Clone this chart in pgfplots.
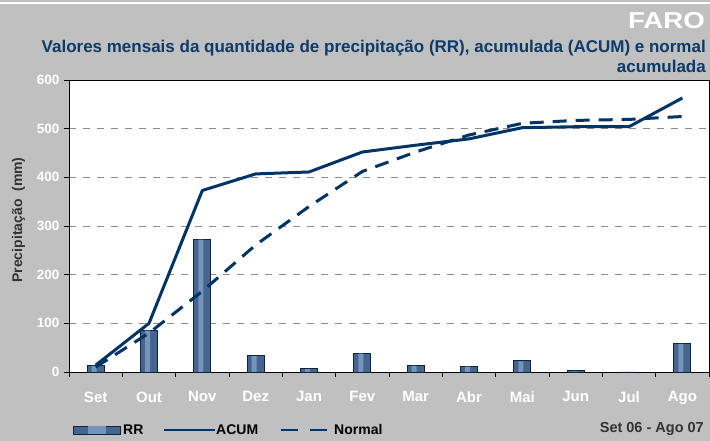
\documentclass[border=0pt]{standalone}
\usepackage{fontspec}
\setmainfont{Liberation Sans}
\usepackage{pgfplots}
\usepackage{pgfplotstable}
\pgfplotsset{compat=1.18}
\definecolor{bg}{HTML}{C0C0C0}
\definecolor{navy}{HTML}{003366}
\definecolor{subt}{HTML}{0B3A6B}
\definecolor{barmid}{HTML}{46658E}
\definecolor{barlight}{HTML}{7594BC}
\definecolor{baredge}{HTML}{0F2440}
\definecolor{grd}{HTML}{8C8C8C}
\definecolor{dgray}{HTML}{333333}
\pgfplotstableread{
x y
0 14
1 86
2 273
3 34
4 7
5 39
6 14
7 12
8 23
9 2.5
10 0
11 59
}\rr
\begin{document}
\begin{tikzpicture}[x=1pt,y=1pt]
\fill[bg] (0,0) rectangle (710,441);
\fill[white] (0,437) rectangle (710,439);
\useasboundingbox (0,0) rectangle (710,441);
\node[anchor=east, text=white, font=\bfseries\fontsize{23}{27}\selectfont, inner sep=0] at (705,420.5) {\scalebox{1.2}[1]{FARO}};
\node[anchor=base east, text=subt, font=\bfseries\fontsize{17}{20}\selectfont, inner sep=0] at (706,388.5) {Valores mensais da quantidade de precipitação (RR), acumulada (ACUM) e normal};
\node[anchor=base east, text=subt, font=\bfseries\fontsize{17}{20}\selectfont, inner sep=0] at (706,368) {acumulada};
\node[rotate=90, text=dgray, font=\bfseries\fontsize{14}{17}\selectfont] at (18.5,221) {Precipitação\ \ (mm)};
\begin{axis}[
  at={(69pt,69pt)}, anchor=south west,
  width=640pt, height=292pt, scale only axis,
  xmin=-0.5, xmax=11.5, ymin=0, ymax=600,
  xtick={-0.5,0.5,...,11.5}, xticklabels={},
  extra x ticks={0,1,...,11},
  extra x tick labels={Set,Out,Nov,Dez,Jan,Fev,Mar,Abr,Mai,Jun,Jul,Ago},
  extra x tick style={major tick length=0pt, xticklabel style={yshift=-16pt}},
  ytick={0,100,...,600},
  tick align=outside, xtick pos=bottom, ytick pos=left,
  major tick length=5pt,
  ymajorgrids, grid style={grd, dash pattern=on 7pt off 7pt, line width=0.8pt},
  axis background/.style={fill=white},
  axis line style={black, line width=0.8pt},
  tick style={black, line width=0.8pt},
  /pgf/number format/assume math mode=true,
  xticklabel style={text=white, font=\bfseries\fontsize{15}{18}\selectfont},
  yticklabel style={text=white, font=\bfseries\fontsize{13.5}{16}\selectfont, xshift=-1pt},
  clip=false,
]
\addplot[ybar, bar width=17pt, bar shift=0pt, draw=baredge, line width=0.9pt,
  fill=barmid] table[x=x,y=y] {\rr};
\addplot[ybar, bar width=5pt, bar shift=-1.5pt, draw=none, fill=barlight] table[x=x,y expr={max(\thisrow{y}-1.2,0)}] {\rr};
\addplot[navy, line width=3pt, line join=round, mark=none] coordinates {
  (0,14) (1,100) (2,373) (3,407) (4,411) (5,452) (6,466) (7,479) (8,502) (9,504) (10,504) (11,563)};
\addplot[navy, line width=3pt, dash pattern=on 14pt off 9pt, mark=none] coordinates {
  (0,10) (1,80) (2,166) (3,261) (4,340) (5,412) (6,452) (7,487) (8,511) (9,517) (10,519) (11,525)};
\end{axis}
% legend
\path[draw=baredge, line width=0.6pt, fill=barmid] (73,6.5) rectangle (120,15);
\fill[barlight] (88,7) rectangle (106,14.5);
\node[anchor=west, inner sep=0, font=\bfseries\fontsize{14}{17}\selectfont] at (123,11) {RR};
\draw[navy, line width=2.6pt] (164,11) -- (215,11);
\node[anchor=west, inner sep=0, font=\bfseries\fontsize{14}{17}\selectfont] at (216,11) {ACUM};
\draw[navy, line width=2.6pt, dash pattern=on 17pt off 12pt] (281,11) -- (328,11);
\node[anchor=west, inner sep=0, font=\bfseries\fontsize{14}{17}\selectfont] at (334,11) {Normal};
\node[anchor=east, inner sep=0, text=dgray, font=\bfseries\fontsize{14.5}{17}\selectfont] at (704,12.5) {Set 06 - Ago 07};
\end{tikzpicture}
\end{document}
